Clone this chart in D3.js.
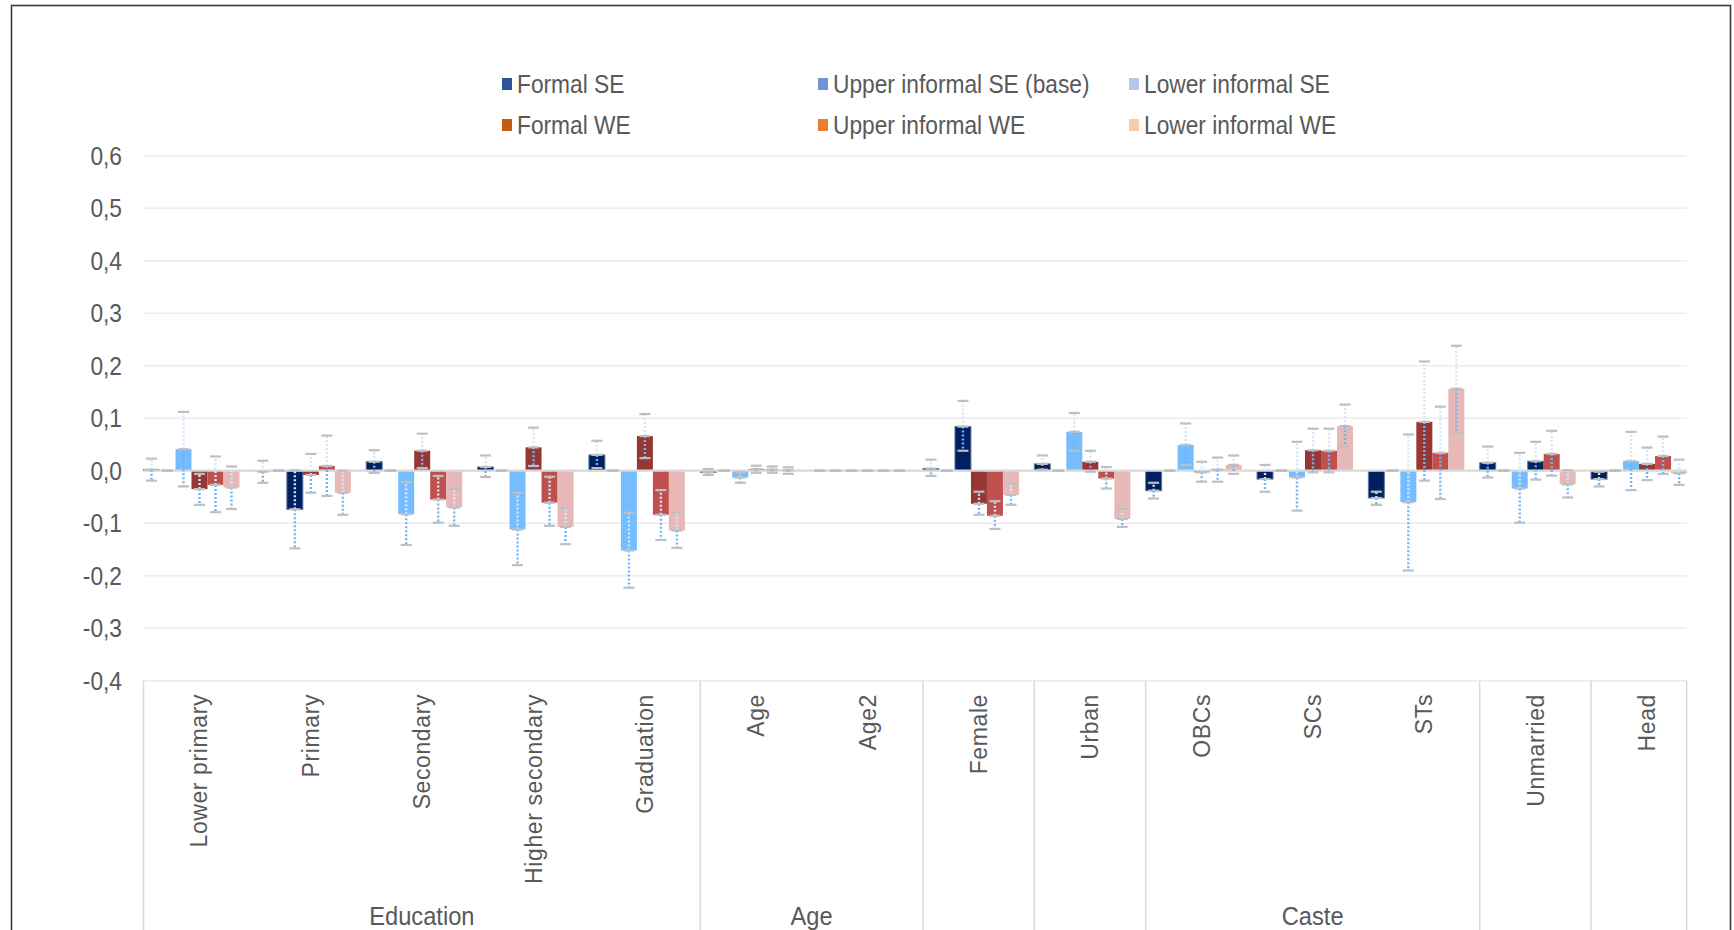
<!DOCTYPE html>
<html>
<head>
<meta charset="utf-8">
<script src="https://cdn.jsdelivr.net/npm/d3@7"></script>
<style>
  body { margin: 0; background: #fff; }
  svg text { font-family: "Liberation Sans", Arial, sans-serif; fill: #595959; }
</style>
</head>
<body>
<svg id="chart" width="1734" height="930"></svg>
<script>
// Coefficients by employment type, with confidence bounds

var categories = ["Lower primary", "Primary", "Secondary", "Higher secondary", "Graduation",
  "Age", "Age2", "Female", "Urban", "OBCs", "SCs", "STs", "Unmarried", "Head"];

var groupNames = ["Education", "Age", "", "", "Caste", "", ""];
var groupSizes = [5, 2, 1, 1, 3, 1, 1];

var seriesNames = ["Formal SE", "Upper informal SE (base)", "Lower informal SE",
  "Formal WE", "Upper informal WE", "Lower informal WE"];

var yTicks = [-0.4, -0.3, -0.2, -0.1, 0, 0.1, 0.2, 0.3, 0.4, 0.5, 0.6];

// point estimates, one value per category
var formalSE      = [0.002, -0.002, 0.017, 0.007, 0.030, -0.003, 0, 0.004, 0.013, -0.038, -0.016, -0.052, 0.015, -0.016];
var upperSE       = [0, 0, 0, 0, 0, 0, 0, 0, 0, 0, 0, 0, 0, 0];
var lowerSE       = [0.041, -0.0735, -0.083, -0.112, -0.152, -0.013, 0, 0.084, 0.074, 0.049, -0.013, -0.060, -0.034, 0.0185];
var formalWE      = [-0.035, -0.008, 0.038, 0.0445, 0.066, 0.003, 0, -0.063, 0.017, -0.003, 0.039, 0.093, 0.018, 0.013];
var upperWE       = [-0.027, 0.009, -0.055, -0.061, -0.084, 0.002, 0, -0.086, -0.015, 0.002, 0.038, 0.034, 0.032, 0.028];
var lowerWE       = [-0.032, -0.042, -0.070, -0.107, -0.114, 0.001, 0, -0.046, -0.092, 0.011, 0.085, 0.156, -0.026, -0.005];

// lower bounds
var formalSELo    = [-0.019, -0.023, -0.004, -0.012, 0.005, -0.008, 0, -0.010, 0.002, -0.053, -0.040, -0.065, -0.013, -0.030];
var upperSELo     = [0, 0, 0, 0, 0, 0, 0, 0, 0, 0, 0, 0, 0, 0];
var lowerSELo     = [-0.030, -0.148, -0.1415, -0.180, -0.223, -0.023, 0, 0.038, 0.038, 0.011, -0.076, -0.190, -0.099, -0.037];
var formalWELo    = [-0.065, -0.042, 0.005, 0.009, 0.024, -0.004, 0, -0.084, -0.002, -0.021, -0.003, -0.019, -0.017, -0.018];
var upperWELo     = [-0.079, -0.048, -0.099, -0.105, -0.132, -0.004, 0, -0.111, -0.034, -0.021, -0.003, -0.054, -0.0095, -0.006];
var lowerWELo     = [-0.073, -0.084, -0.105, -0.140, -0.147, -0.006, 0, -0.065, -0.107, -0.006, 0.046, 0.072, -0.051, -0.027];

// upper bounds
var formalSEHi    = [0.023, 0.019, 0.039, 0.029, 0.057, 0.003, 0, 0.021, 0.029, -0.023, 0.011, -0.040, 0.046, -0.002];
var upperSEHi     = [0, 0, 0, 0, 0, 0, 0, 0, 0, 0, 0, 0, 0, 0];
var lowerSEHi     = [0.112, 0.001, -0.0215, -0.042, -0.080, -0.003, 0, 0.133, 0.110, 0.090, 0.055, 0.069, 0.034, 0.074];
var formalWEHi    = [-0.006, 0.032, 0.0705, 0.082, 0.108, 0.0095, 0, -0.040, 0.038, 0.017, 0.080, 0.208, 0.055, 0.044];
var upperWEHi     = [0.027, 0.067, -0.010, -0.0115, -0.037, 0.008, 0, -0.058, 0.007, 0.025, 0.080, 0.122, 0.076, 0.065];
var lowerWEHi     = [0.008, 0.000, -0.035, -0.072, -0.080, 0.0065, 0, -0.025, -0.073, 0.029, 0.126, 0.238, 0.001, 0.021];

var values = [formalSE, upperSE, lowerSE, formalWE, upperWE, lowerWE];
var lows   = [formalSELo, upperSELo, lowerSELo, formalWELo, upperWELo, lowerWELo];
var highs  = [formalSEHi, upperSEHi, lowerSEHi, formalWEHi, upperWEHi, lowerWEHi];

///////////////////////////////////////////////////////////////////////////////
// Styles

var navy = "#002060", sky = "#75bdff";
var barColors = [navy, "none", sky, "#953735", "#c0504d", "#e6b9b8"];
var legendColors = ["#2f5597", "#6f93d3", "#b4c7e7", "#c55a11", "#ed7d31", "#f8cbad"];

// a few bars in the picture are coloured differently from their series
var colorOverrides = {
  "Primary|Formal SE": sky,
  "Primary|Lower informal SE": navy,
  "Female|Lower informal SE": navy,
  "Unmarried|Formal WE": navy
};

var left = 143.5, plotRight = 1686.7, catStep = 111.35;
var yTop = 155.7, yBottom = 680.7;

// the original text is a little taller than it is wide
var squish = " scale(0.91,1)";

var svg = d3.select("#chart");

var x = d3.scaleBand()
  .domain(categories)
  .range([left, left + catStep * categories.length])
  .paddingInner(0).paddingOuter(0);

var slot = d3.scaleBand()
  .domain(seriesNames)
  .range([0, 96]);

var y = d3.scaleLinear()
  .domain([-0.4, 0.6])
  .range([yBottom, yTop]);

var fmt = function (v) {
  var s = Math.abs(v).toFixed(1).replace(".", ",");
  return (v < -1e-9 ? "-" : "") + s;
};

// outer frame
svg.append("rect")
  .attr("x", 11.5).attr("y", 5.5)
  .attr("width", 1719).attr("height", 1000)
  .attr("fill", "none").attr("stroke", "#3a3a3a").attr("stroke-width", 1.6);

// gridlines
svg.append("g").selectAll("line")
  .data(yTicks.filter(function (t) { return t !== 0; }))
  .join("line")
  .attr("x1", left).attr("x2", plotRight)
  .attr("y1", function (d) { return y(d); })
  .attr("y2", function (d) { return y(d); })
  .attr("stroke", "#ececec").attr("stroke-width", 1.5);

// y axis labels
svg.append("g").selectAll("text")
  .data(yTicks)
  .join("text")
  .attr("transform", function (d) { return "translate(122," + y(d) + ")" + squish; })
  .attr("dy", "0.36em")
  .attr("text-anchor", "end")
  .style("font-size", "25px")
  .text(fmt);

///////////////////////////////////////////////////////////////////////////////
// Bars and error bars

var points = [];
categories.forEach(function (cat, ci) {
  seriesNames.forEach(function (name, si) {
    var key = cat + "|" + name;
    points.push({
      cat: cat, series: name, si: si,
      v: values[si][ci], lo: lows[si][ci], hi: highs[si][ci],
      color: colorOverrides[key] || barColors[si]
    });
  });
});

var cx = function (d) { return x(d.cat) + slot(d.series) + slot.bandwidth() / 2; };

svg.append("g").selectAll("rect")
  .data(points.filter(function (d) { return d.color !== "none"; }))
  .join("rect")
  .attr("x", function (d) { return x(d.cat) + slot(d.series); })
  .attr("width", slot.bandwidth())
  .attr("y", function (d) { return Math.min(y(d.v), y(0)); })
  .attr("height", function (d) { return Math.abs(y(d.v) - y(0)); })
  .attr("fill", function (d) { return d.color; })
  .attr("stroke", function (d) { return d.color === navy ? "#5f78a8" : "none"; })
  .attr("stroke-width", 1);

// zero axis line
svg.append("line")
  .attr("x1", left).attr("x2", plotRight)
  .attr("y1", y(0)).attr("y2", y(0))
  .attr("stroke", "#d9d9d9").attr("stroke-width", 2.2);

var err = svg.append("g");

// plus side, pale dotted
err.selectAll("line.plus")
  .data(points)
  .join("line")
  .attr("class", "plus")
  .attr("x1", cx).attr("x2", cx)
  .attr("y1", function (d) { return y(d.v); })
  .attr("y2", function (d) { return y(d.hi); })
  .attr("stroke", "#cfe7ff").attr("stroke-width", 2.4)
  .attr("stroke-dasharray", "2,2");

// minus side, stronger dotted
err.selectAll("line.minus")
  .data(points)
  .join("line")
  .attr("class", "minus")
  .attr("x1", cx).attr("x2", cx)
  .attr("y1", function (d) { return y(d.v); })
  .attr("y2", function (d) { return y(d.lo); })
  .attr("stroke", "#6fb4f7").attr("stroke-width", 2.4)
  .attr("stroke-dasharray", "2,2");

var caps = [];
points.forEach(function (d) {
  caps.push({ p: d, at: d.lo }, { p: d, at: d.v }, { p: d, at: d.hi });
});

err.selectAll("line.cap")
  .data(caps)
  .join("line")
  .attr("class", "cap")
  .attr("x1", function (c) { return cx(c.p) - 5.5; })
  .attr("x2", function (c) { return cx(c.p) + 5.5; })
  .attr("y1", function (c) { return y(c.at); })
  .attr("y2", function (c) { return y(c.at); })
  .attr("stroke", "#bfbfbf").attr("stroke-width", 2.2);

///////////////////////////////////////////////////////////////////////////////
// Category axis, two levels

svg.append("g").selectAll("text")
  .data(categories)
  .join("text")
  .attr("transform", function (d) {
    return "translate(" + (x(d) + x.bandwidth() / 2) + ",694) rotate(-90)";
  })
  .attr("dy", "0.36em")
  .attr("text-anchor", "end")
  .style("font-size", "23px")
  .style("letter-spacing", "0.6px")
  .text(function (d) { return d; });

var groups = [], start = 0;
groupNames.forEach(function (g, i) {
  groups.push({ name: g, first: categories[start], last: categories[start + groupSizes[i] - 1] });
  start += groupSizes[i];
});

var bounds = groups.map(function (g) { return x(g.first); }).concat([plotRight]);

svg.append("g").selectAll("line")
  .data(bounds)
  .join("line")
  .attr("x1", function (d) { return d; }).attr("x2", function (d) { return d; })
  .attr("y1", yBottom).attr("y2", 940)
  .attr("stroke", "#d9d9d9").attr("stroke-width", 1.5);

svg.append("g").selectAll("text")
  .data(groups.filter(function (g) { return g.name; }))
  .join("text")
  .attr("transform", function (g) {
    return "translate(" + ((x(g.first) + x(g.last) + x.bandwidth()) / 2) + ",916)" + squish;
  })
  .attr("dy", "0.36em")
  .attr("text-anchor", "middle")
  .style("font-size", "26px")
  .text(function (g) { return g.name; });

///////////////////////////////////////////////////////////////////////////////
// Legend

var legendX = [502, 818, 1129], legendY = [84, 125];

var legend = svg.append("g").selectAll("g")
  .data(seriesNames)
  .join("g")
  .attr("transform", function (d, i) {
    return "translate(" + legendX[i % 3] + "," + legendY[Math.floor(i / 3)] + ")";
  });

legend.append("rect")
  .attr("x", 0).attr("y", -6)
  .attr("width", 10).attr("height", 12)
  .attr("fill", function (d, i) { return legendColors[i]; });

legend.append("text")
  .attr("transform", "translate(15,0)" + squish)
  .attr("dy", "0.36em")
  .style("font-size", "25px")
  .text(function (d) { return d; });
</script>
</body>
</html>
